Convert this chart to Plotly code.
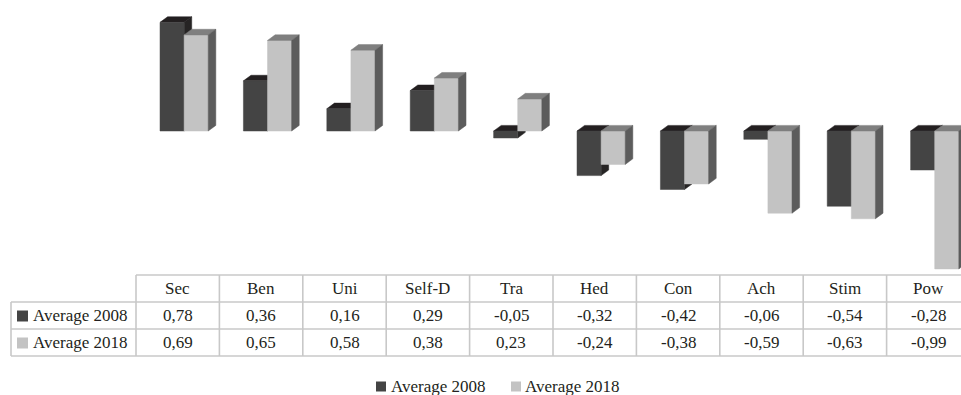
import plotly.graph_objects as go

# Values per category
categories = ["Sec", "Ben", "Uni", "Self-D", "Tra", "Hed", "Con", "Ach", "Stim", "Pow"]
avg_2008 = [0.78, 0.36, 0.16, 0.29, -0.05, -0.32, -0.42, -0.06, -0.54, -0.28]
avg_2018 = [0.69, 0.65, 0.58, 0.38, 0.23, -0.24, -0.38, -0.59, -0.63, -0.99]
series_names = ["Average 2008", "Average 2018"]

W, H = 961, 395
PX_PER_X = 83.4          # pixels per category
X0_PX = 177.7            # pixel centre of the first category
PX_PER_Y = 139.3         # pixels per unit value
Y0_PX = 131.0            # pixel row of the zero line

X_RANGE = [(0 - X0_PX) / PX_PER_X, (W - X0_PX) / PX_PER_X]
Y_RANGE = [(Y0_PX - H) / PX_PER_Y, Y0_PX / PX_PER_Y]


def px_x(p):
    return (p - X0_PX) / PX_PER_X


def py(p):
    return 1 - p / H


# bar geometry (in axis units)
BAR_OFF = -0.212
BAR_W = 0.289
DX = 7.6 / PX_PER_X
DY = 5.6 / PX_PER_Y

# face colours: front, top, side
dark = dict(front="#444444", top="#231f20", side="#262424")
light = dict(front="#c3c3c3", top="#7f7f7f", side="#5c5c5c")


def faces(values, shift):
    fx, fy, tx, ty, sx, sy = [], [], [], [], [], []
    for i, v in enumerate(values):
        x0 = i + BAR_OFF + shift
        x1 = x0 + BAR_W
        t, b = max(v, 0), min(v, 0)
        fx += [x0, x1, x1, x0, x0, None]
        fy += [b, b, t, t, b, None]
        tx += [x0, x1, x1 + DX, x0 + DX, x0, None]
        ty += [t, t, t + DY, t + DY, t, None]
        sx += [x1, x1 + DX, x1 + DX, x1, x1, None]
        sy += [b, b + DY, t + DY, t, b, None]
    return (fx, fy), (tx, ty), (sx, sy)


def poly(xy, color, name):
    return go.Scatter(
        x=xy[0], y=xy[1], mode="lines", fill="toself", fillcolor=color,
        line=dict(color=color, width=0.5), hoverinfo="skip",
        showlegend=False, name=name, connectgaps=False,
    )


fig = go.Figure()
d_front, d_top, d_side = faces(avg_2008, 0.0)
l_front, l_top, l_side = faces(avg_2018, BAR_W)
fig.add_trace(poly(d_side, dark["side"], series_names[0]))
fig.add_trace(poly(d_top, dark["top"], series_names[0]))
fig.add_trace(poly(d_front, dark["front"], series_names[0]))
fig.add_trace(poly(l_front, light["front"], series_names[1]))
fig.add_trace(poly(l_top, light["top"], series_names[1]))
fig.add_trace(poly(l_side, light["side"], series_names[1]))

# data table under the chart
GRID = "#c8c8c8"
FONT = dict(family="Liberation Serif", size=17, color="#231f20")
n = len(categories)
row_top = [275, 302, 329, 356]
left_px = 11
label_x = px_x(left_px)
right_x = X_RANGE[1] + 0.2

shapes = []
annotations = []

# horizontal lines
shapes.append(dict(type="line", xref="x", yref="paper", x0=-0.5, x1=right_x,
                   y0=py(row_top[0]), y1=py(row_top[0]), line=dict(color=GRID, width=1.6)))
for r in row_top[1:]:
    shapes.append(dict(type="line", xref="x", yref="paper", x0=label_x, x1=right_x,
                       y0=py(r), y1=py(r), line=dict(color=GRID, width=1.6)))
# vertical lines
for i in range(n + 1):
    shapes.append(dict(type="line", xref="x", yref="paper", x0=i - 0.5, x1=i - 0.5,
                       y0=py(row_top[0]), y1=py(row_top[-1]), line=dict(color=GRID, width=1.6)))
shapes.append(dict(type="line", xref="x", yref="paper", x0=label_x, x1=label_x,
                   y0=py(row_top[1]), y1=py(row_top[-1]), line=dict(color=GRID, width=1.6)))


def fmt(v):
    return f"{v:.2f}".replace(".", ",")


for i, c in enumerate(categories):
    annotations.append(dict(x=i, y=py((row_top[0] + row_top[1]) / 2), xref="x", yref="paper",
                            text=c, showarrow=False, font=FONT, xanchor="center", yanchor="middle"))
    for r, vals in enumerate([avg_2008, avg_2018]):
        annotations.append(dict(x=i, y=py((row_top[r + 1] + row_top[r + 2]) / 2), xref="x",
                                yref="paper", text=fmt(vals[i]), showarrow=False, font=FONT,
                                xanchor="center", yanchor="middle"))

# row labels with colour keys
key_colors = [dark["front"], light["front"]]
for r, name in enumerate(series_names):
    yc = (row_top[r + 1] + row_top[r + 2]) / 2
    shapes.append(dict(type="rect", xref="x", yref="paper",
                       x0=px_x(17), x1=px_x(28), y0=py(yc - 5), y1=py(yc + 6),
                       fillcolor=key_colors[r], line=dict(width=0)))
    annotations.append(dict(x=px_x(30.5), y=py(yc), xref="x", yref="paper", text=name,
                            showarrow=False, font=FONT, xanchor="left", yanchor="middle"))

# legend at the bottom
legend_y = 386
for key_px, text_px, color, name in [(376, 389, key_colors[0], series_names[0]),
                                     (511, 523, key_colors[1], series_names[1])]:
    shapes.append(dict(type="rect", xref="x", yref="paper",
                       x0=px_x(key_px), x1=px_x(key_px + 10), y0=py(legend_y - 4.5), y1=py(legend_y + 5.5),
                       fillcolor=color, line=dict(width=0)))
    annotations.append(dict(x=px_x(text_px), y=py(legend_y), xref="x", yref="paper", text=name,
                            showarrow=False, font=FONT, xanchor="left", yanchor="middle"))

fig.update_layout(
    width=W, height=H, autosize=False,
    margin=dict(l=0, r=0, t=0, b=0),
    paper_bgcolor="white", plot_bgcolor="white",
    xaxis=dict(range=X_RANGE, visible=False, fixedrange=True),
    yaxis=dict(range=Y_RANGE, visible=False, fixedrange=True),
    shapes=shapes, annotations=annotations,
    showlegend=False,
)

fig.write_html("out.html")
